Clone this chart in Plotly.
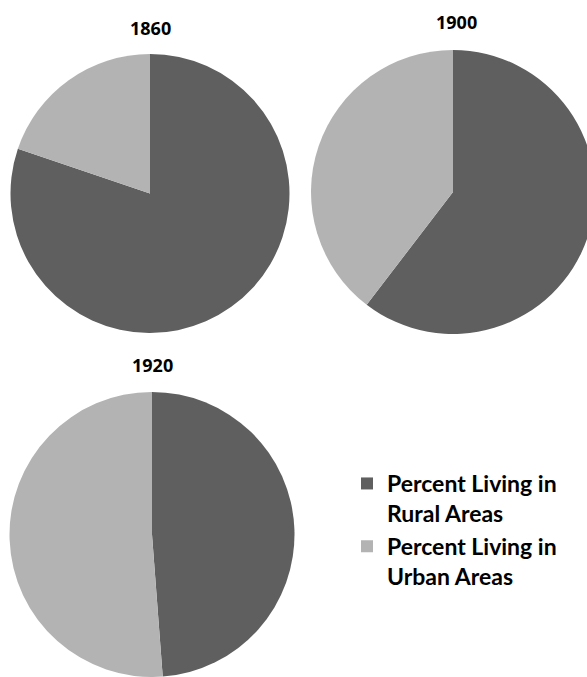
import plotly.graph_objects as go

years = ["1860", "1900", "1920"]
labels = ["Percent Living in<br>Rural Areas", "Percent Living in<br>Urban Areas"]
rural = [80.2, 60.4, 48.8]
urban = [19.8, 39.6, 51.2]
colors = ["#5f5f5f", "#b3b3b3"]

# figure is slightly wider than the 587px window so the 1900 pie is cut at the right edge
W, H = 600, 677
# pie placement in pixels: centre x, centre y, radius
pies = [(150, 193.5, 139.5), (453, 192, 142), (152, 534.5, 142.5)]
title_pos = [(150, 28), (456, 22), (152, 365)]

fig = go.Figure()
for i, yr in enumerate(years):
    cx, cy, r = pies[i]
    y0 = max(0.0, 1 - (cy + r) / H)
    y1 = min(1.0, 1 - (cy - r) / H)
    fig.add_trace(go.Pie(
        labels=labels,
        values=[rural[i], urban[i]],
        sort=False,
        direction="clockwise",
        rotation=0,
        textinfo="none",
        hoverinfo="label+percent",
        marker=dict(colors=colors, line=dict(width=0)),
        domain=dict(x=[(cx - r) / W, (cx + r) / W], y=[y0, y1]),
        showlegend=(i == 0),
        name=yr,
    ))
    tx, ty = title_pos[i]
    fig.add_annotation(text="<b>%s</b>" % yr, x=tx / W, y=1 - ty / H,
                       xref="paper", yref="paper", xanchor="center", yanchor="middle",
                       showarrow=False,
                       font=dict(size=18, color="#000000", family="Open Sans"))

fig.update_layout(
    width=W, height=H,
    margin=dict(l=0, r=0, t=0, b=0),
    paper_bgcolor="white",
    plot_bgcolor="white",
    font=dict(family="Lato", color="#000000"),
    legend=dict(x=347 / W, y=1 - 462 / H, xanchor="left", yanchor="top",
                font=dict(size=23, family="Lato", color="#000000", weight="bold"),
                valign="top", itemwidth=30, bgcolor="rgba(0,0,0,0)"),
)
fig.write_html("out.html", config={"displayModeBar": False},
               post_script="document.body.style.margin='0';document.body.style.overflow='hidden';"
                           "document.documentElement.style.overflow='hidden';")
